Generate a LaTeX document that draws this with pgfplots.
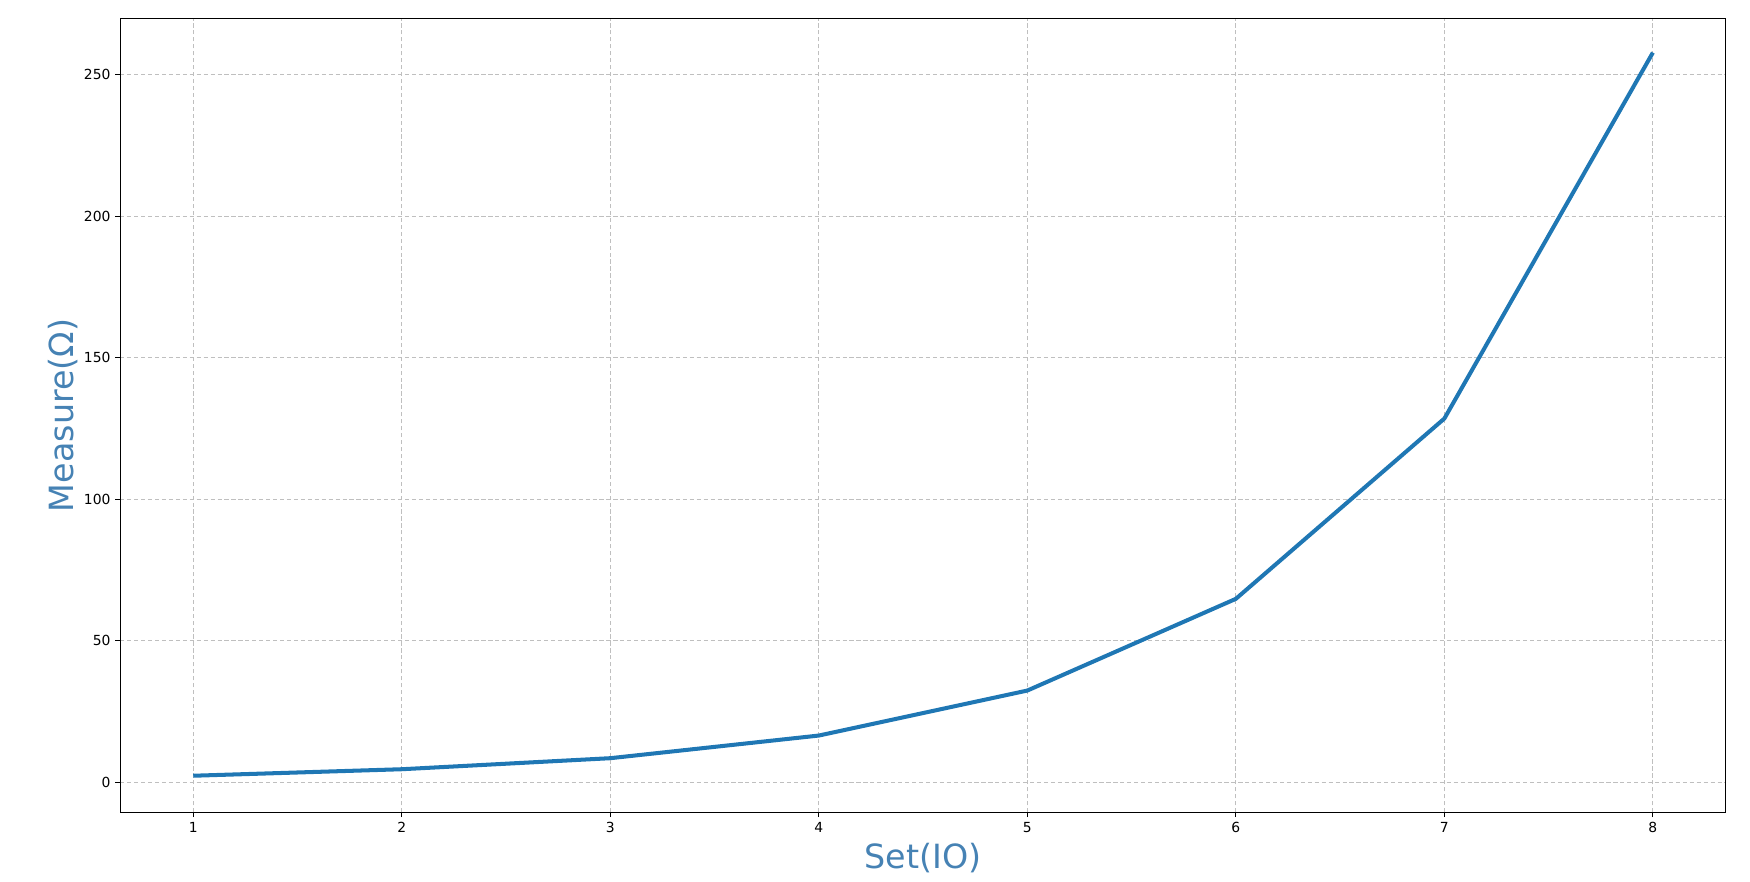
\documentclass[border=0pt]{standalone}
\usepackage{fontspec}
\setmainfont{DejaVu Sans}
\usepackage{pgfplots}
\pgfplotsset{compat=1.18}
\definecolor{mplblue}{HTML}{1F77B4}
\definecolor{steel}{HTML}{4682B4}
\begin{document}
\begin{tikzpicture}
\begin{axis}[
  scale only axis,
  width=1156.1pt, height=571.4pt,
  xmin=0.65, xmax=8.35,
  ymin=-10.6, ymax=269.8,
  xtick={1,2,3,4,5,6,7,8},
  ytick={0,50,100,150,200,250},
  xtick pos=left, ytick pos=left,
  tick align=outside,
  major tick length=3.5pt,
  tick style={black, line width=0.8pt},
  axis line style={black, line width=0.8pt},
  grid=major,
  major grid style={color=black!25, line width=0.8pt, dash pattern=on 3pt off 2pt},
  tick label style={font=\fontsize{10}{12}\selectfont},
  /pgf/number format/assume math mode=true,
  xlabel={Set(IO)},
  ylabel={Measure(Ω)},
  label style={font=\fontsize{24}{28}\selectfont, text=steel},
  xlabel style={at={(axis description cs:0.5,0)}, anchor=north, yshift=-18.8pt},
  ylabel style={at={(axis description cs:0,0.5)}, anchor=south, yshift=26.8pt},
]
\addplot[mplblue, line width=2.9pt, line join=round] coordinates {
  (1,2.3) (2,4.6) (3,8.5) (4,16.5) (5,32.4) (6,64.8) (7,128.5) (8,257.8)
};
\end{axis}
\pgfresetboundingbox
\path (-86.6pt,-49.5pt) rectangle ++(1260pt,634.32pt);
\end{tikzpicture}
\end{document}
